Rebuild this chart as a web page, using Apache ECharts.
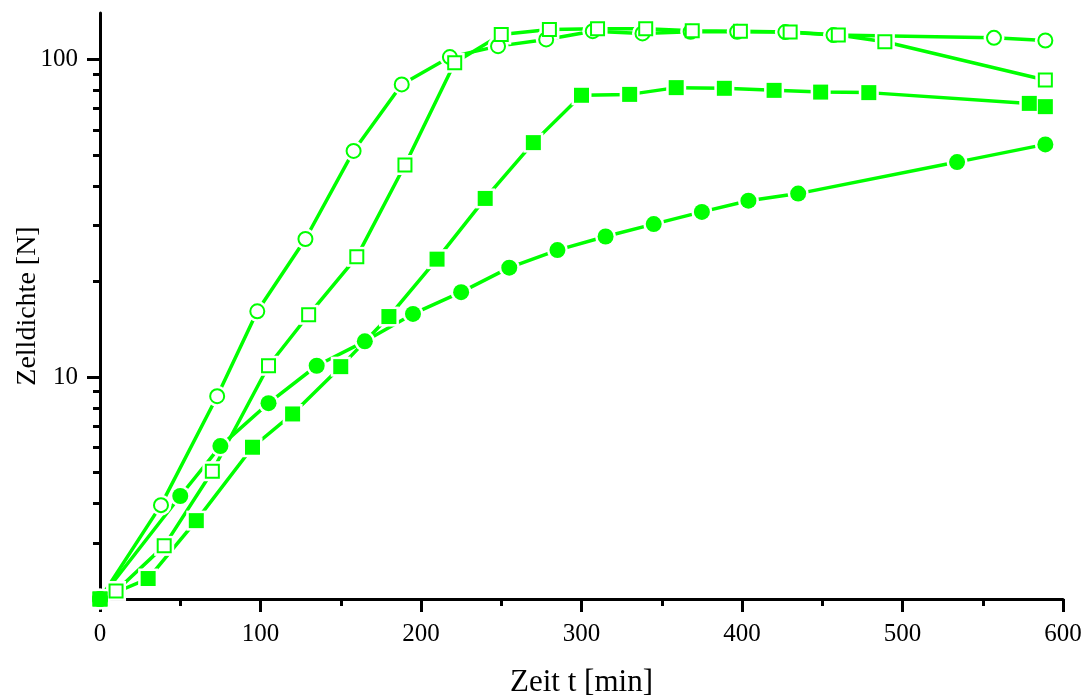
<!DOCTYPE html>
<html>
<head>
<meta charset="utf-8">
<script src="https://cdn.jsdelivr.net/npm/echarts@6/dist/echarts.min.js"></script>
<style>
html,body{margin:0;padding:0;background:#fff;}
#chart{width:1084px;height:697px;}
</style>
</head>
<body>
<div id="chart"></div>
<script>
// ---- data ----
const openCircleT = [0, 38, 73, 98, 128, 158, 188, 218, 248, 278, 307, 338, 368, 397, 427, 457, 557, 589];
const openCircleV = [2.0, 3.95, 8.7, 16.1, 27.2, 51.5, 83.4, 101.7, 110.1, 115.6, 122.7, 120.7, 122.2, 122.2, 121.9, 119.3, 116.9, 114.7];

const openSquareT = [0, 10, 40, 70, 105, 130, 160, 190, 221, 250, 280, 310, 340, 369, 399, 430, 460, 489, 589];
const openSquareV = [2.0, 2.12, 2.94, 5.05, 10.85, 15.7, 23.9, 46.5, 97.6, 119.8, 124.2, 124.9, 124.9, 123.0, 122.7, 122.0, 119.3, 113.7, 86.1];

const filledSquareT = [0, 30, 60, 95, 120, 150, 180, 210, 240, 270, 300, 330, 359, 389, 420, 449, 479, 579, 589];
const filledSquareV = [2.0, 2.32, 3.53, 6.01, 7.65, 10.78, 15.5, 23.5, 36.5, 54.7, 77.1, 77.6, 81.5, 81.1, 79.9, 78.9, 78.6, 72.7, 71.0];

const filledCircleT = [0, 50, 75, 105, 135, 165, 195, 225, 255, 285, 315, 345, 375, 404, 435, 534, 589];
const filledCircleV = [2.0, 4.22, 6.06, 8.27, 10.85, 12.95, 15.8, 18.5, 22.1, 25.1, 27.7, 30.3, 33.1, 35.9, 37.8, 47.5, 54.0];

const xTicks = [0, 100, 200, 300, 400, 500, 600];
const yMajorTicks = [10, 100];
const yMinorTicks = [3, 4, 5, 6, 7, 8, 9, 20, 30, 40, 50, 60, 70, 80, 90];

const xTitle = 'Zeit t [min]';
const yTitle = 'Zelldichte [N]';

// ---- build ----
const GREEN = '#00ff00';
const FONT = 'Liberation Serif';
function pairs(t, v) { return t.map((x, i) => [x, v[i]]); }

const groups = [
  { data: pairs(openCircleT, openCircleV), symbol: 'circle', open: true, size: 16 },
  { data: pairs(openSquareT, openSquareV), symbol: 'rect', open: true, size: 15 },
  { data: pairs(filledSquareT, filledSquareV), symbol: 'rect', open: false, size: 15 },
  { data: pairs(filledCircleT, filledCircleV), symbol: 'circle', open: false, size: 16 }
];

const series = [];
groups.forEach(g => {
  series.push({
    type: 'line', data: g.data, showSymbol: false, symbol: 'none', z: 1,
    lineStyle: { color: GREEN, width: 3.5 }, silent: true, animation: false
  });
});
groups.forEach(g => {
  series.push({
    type: 'scatter', data: g.data, symbol: g.symbol, symbolSize: g.size + 5, z: 2,
    itemStyle: { color: '#ffffff', opacity: 1 }, silent: true, animation: false
  });
});
groups.forEach(g => {
  series.push({
    type: 'scatter', data: g.data, symbol: g.symbol,
    symbolSize: g.open ? g.size - 2 : g.size, z: 3,
    itemStyle: g.open
      ? { color: '#ffffff', borderColor: GREEN, borderWidth: 2, opacity: 1 }
      : { color: GREEN, opacity: 1 },
    silent: true, animation: false
  });
});

const axisLineStyle = { color: '#000', width: 3 };

const option = {
  backgroundColor: '#ffffff',
  animation: false,
  grid: { left: 100, right: 21, top: 13, bottom: 98, containLabel: false, outerBoundsMode: 'none' },
  xAxis: {
    type: 'value', min: xTicks[0], max: xTicks[xTicks.length - 1], interval: 100,
    name: xTitle, nameLocation: 'middle', nameGap: 68, nameMoveOverlap: false,
    nameTextStyle: { fontFamily: FONT, fontSize: 31, color: '#000' },
    axisLine: { show: true, lineStyle: axisLineStyle },
    axisTick: { show: true, inside: false, length: 13, lineStyle: { color: '#000', width: 3 } },
    minorTick: { show: true, splitNumber: 2, length: 7, lineStyle: { color: '#000', width: 3 } },
    axisLabel: { fontFamily: FONT, fontSize: 25, color: '#000', margin: 23 },
    splitLine: { show: false }, minorSplitLine: { show: false }
  },
  yAxis: [
    {
      type: 'log', logBase: 10, min: 2, max: 140,
      name: yTitle, nameLocation: 'middle', nameGap: 58, nameRotate: 90, nameMoveOverlap: false,
      nameTextStyle: { fontFamily: FONT, fontSize: 28, color: '#000' },
      axisLine: { show: true, lineStyle: axisLineStyle },
      axisTick: { show: true, inside: false, length: 13, customValues: yMajorTicks, lineStyle: { color: '#000', width: 3 } },
      axisLabel: { fontFamily: FONT, fontSize: 25, color: '#000', margin: 22, customValues: yMajorTicks },
      splitLine: { show: false }
    },
    {
      type: 'log', logBase: 10, min: 2, max: 140, position: 'left',
      axisLine: { show: false },
      axisTick: { show: true, inside: false, length: 7, customValues: yMinorTicks, lineStyle: { color: '#000', width: 3 } },
      axisLabel: { show: false },
      splitLine: { show: false }
    }
  ],
  series: series
};

const chart = echarts.init(document.getElementById('chart'), null, { renderer: 'canvas' });
chart.setOption(option);
</script>
</body>
</html>
